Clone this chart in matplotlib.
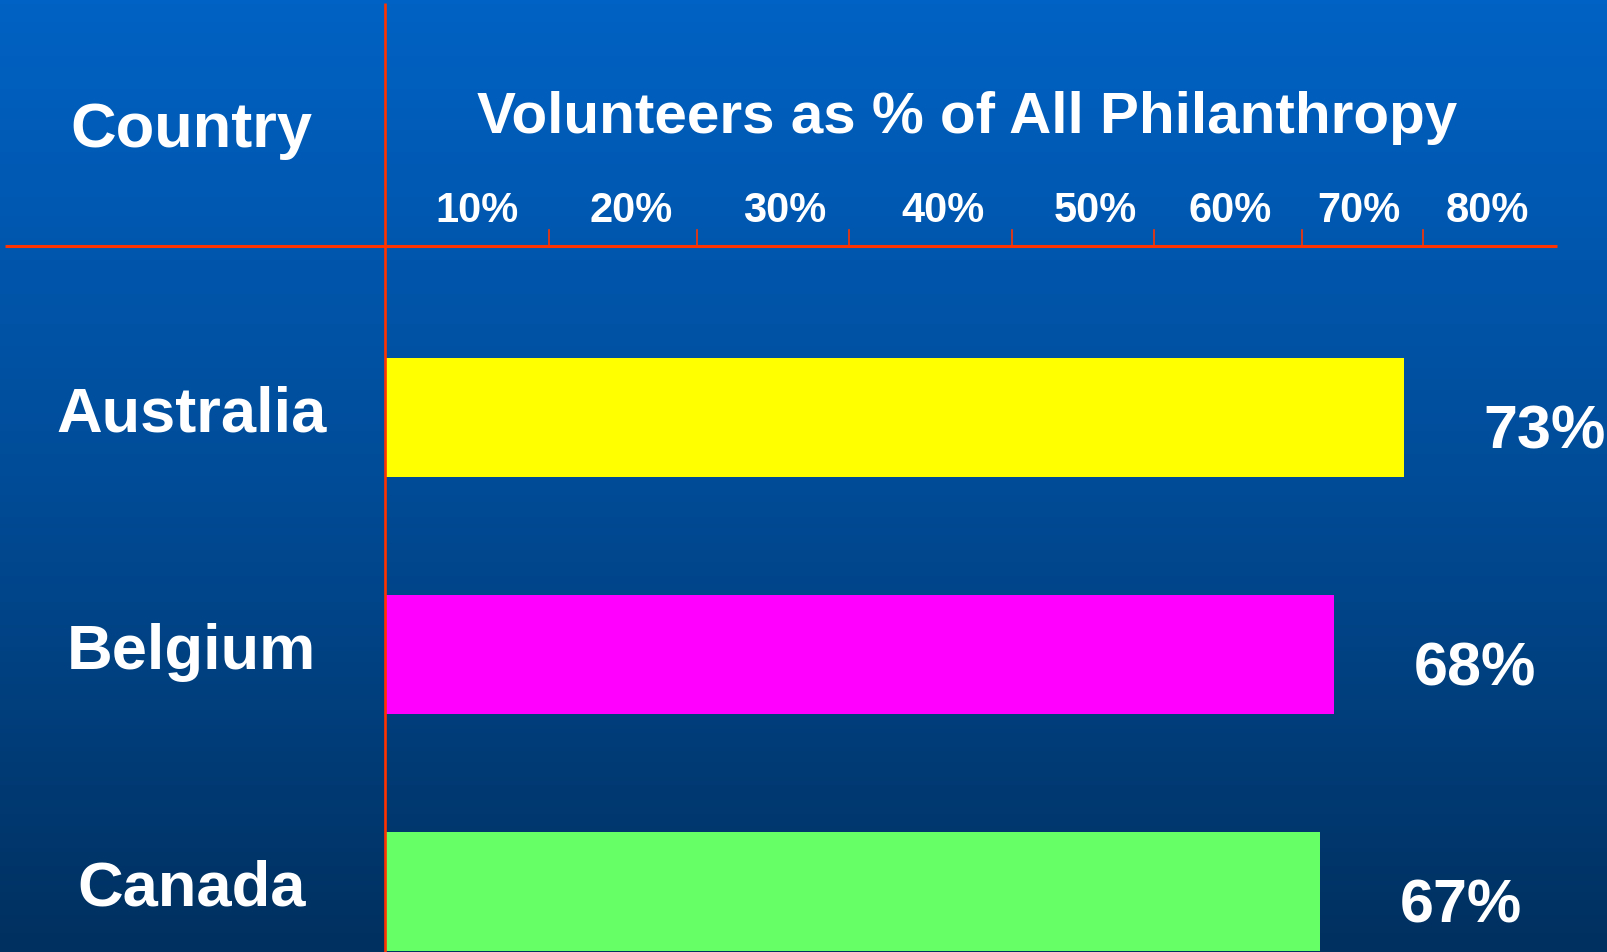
import numpy as np
import matplotlib
matplotlib.use("Agg")
import matplotlib.pyplot as plt
from matplotlib.colors import LinearSegmentedColormap

# ---- data ----
countries = ["Australia", "Belgium", "Canada"]
values = [73, 68, 67]
bar_colors = ["#FFFF00", "#FF00FF", "#66FF66"]
tick_labels = ["10%", "20%", "30%", "40%", "50%", "60%", "70%", "80%"]
title = "Volunteers as % of All Philanthropy"
col_header = "Country"

# ---- layout (reference pixel space 1568 x 928) ----
W, H = 1568.0, 928.0
x0_px = 375.0          # bar origin
px_per_pct = 13.62
row0_px = 407.0        # centre of first row
row_pitch = 231.0
bar_h = 116.0 / row_pitch
axis_y_px = 240.0
tick_label_x_px = [465, 615, 765, 920, 1068, 1200, 1325, 1450]
tick_mark_x_px = [535, 680, 828, 987, 1125, 1270, 1388]

fig = plt.figure(figsize=(16.08, 9.52), dpi=100)
ax = fig.add_axes([0, 0, 1, 1])
ax.set_xlim(-x0_px / px_per_pct, (W - x0_px) / px_per_pct)
ax.set_ylim((H - row0_px) / row_pitch, -row0_px / row_pitch)
ax.axis("off")

# gradient background
cmap = LinearSegmentedColormap.from_list("bg", ["#0062C4", "#004C98", "#00305F"])
grad = np.linspace(0, 1, 256).reshape(-1, 1)
ax.imshow(grad, cmap=cmap, aspect="auto", extent=[0, 1, 0, 1],
          transform=ax.transAxes, origin="upper", zorder=0)

y = np.arange(len(countries))
ax.barh(y, values, height=bar_h, color=bar_colors, zorder=2, linewidth=0)

red = "#FF3300"
# vertical divider
ax.plot([x0_px / W, x0_px / W], [1 - 3 / H, 0], transform=ax.transAxes,
        color=red, lw=1.9, zorder=3, solid_capstyle="butt")
# horizontal axis line
ay = 1 - axis_y_px / H
ax.plot([5 / W, 1518 / W], [ay, ay], transform=ax.transAxes,
        color=red, lw=2.2, zorder=3, solid_capstyle="butt")
for tx in tick_mark_x_px:
    ax.plot([tx / W, tx / W], [ay, ay + 16 / H], transform=ax.transAxes,
            color=red, lw=1.2, zorder=3)

bold = dict(color="white", fontweight="bold", family="Liberation Sans")

# headers
ax.text(187 / W, 1 - 143 / H, col_header, transform=ax.transAxes,
        ha="center", va="baseline", fontsize=45.5, **bold)
ax.text(943 / W, 1 - 130 / H, title, transform=ax.transAxes,
        ha="center", va="baseline", fontsize=42, **bold)

# tick labels
for tx, lab in zip(tick_label_x_px, tick_labels):
    ax.text(tx / W, 1 - 216 / H, lab, transform=ax.transAxes,
            ha="center", va="baseline", fontsize=30, **bold)

# country labels
for i, c in enumerate(countries):
    ax.text(187 / W, 1 - (row0_px + 14 + i * row_pitch) / H, c,
            transform=ax.transAxes, ha="center", va="baseline",
            fontsize=45.5, **bold)

# value labels
for i, v in enumerate(values):
    ax.annotate(f"{v}%", xy=(v, i), xytext=(57, -22), textcoords="offset points",
                ha="left", va="baseline", fontsize=44, **bold)

fig.savefig("out.png", dpi=100)
